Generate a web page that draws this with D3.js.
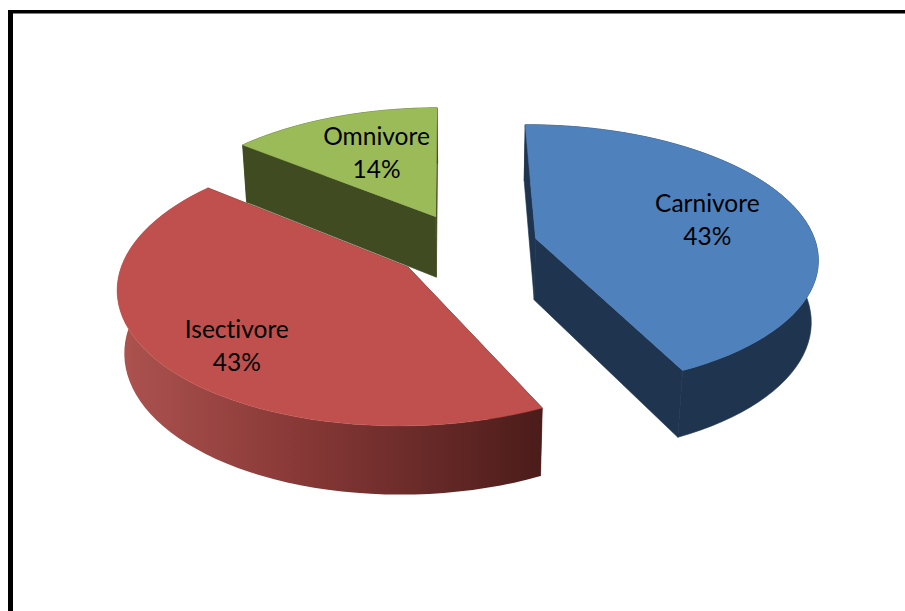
<!DOCTYPE html>
<html>
<head>
<meta charset="utf-8">
<script src="https://cdn.jsdelivr.net/npm/d3@7"></script>
<style>
  html, body { margin: 0; padding: 0; background: #fff; overflow: hidden; }
  text { font-family: Lato, "Open Sans", sans-serif; font-size: 24.5px; fill: #000; font-variant-ligatures: none; }
</style>
</head>
<body>
<div id="chart"></div>
<script>
const categories = ["Carnivore", "Isectivore", "Omnivore"];
const values = [43, 43, 14];

const topColors = ["#4f81bd", "#c0504d", "#9bbb59"];
const sideColors = ["#1f344f", "url(#redSide)", "#404b21"];

const width = 905;
const height = 611;

// pie geometry, all in px of the flat disc before the view is applied
const radius = 281;
const depth = 63;
const explode = 72;
const rotation = 0.5 * Math.PI / 180;
const labelAt = [0.65, 0.7, 0.55];
const labelNudge = [1, 17, -5];

// view of the tilted disc
const cx = 466;
const cy = 246;
const tilt = 0.466;
const backShrink = 0.135;
const downShrink = 0.09;

function project(x, y, z) {
  const s = 1 / (1 + backShrink * y / radius + downShrink * z / radius);
  return [cx + x * s, cy - tilt * y * s + z * s];
}

const svg = d3.select("#chart")
  .append("svg")
  .attr("width", width)
  .attr("height", height);

// side shading of the red slice
const grad = svg.append("defs").append("linearGradient")
  .attr("id", "redSide")
  .attr("gradientUnits", "userSpaceOnUse")
  .attr("x1", 118).attr("y1", 0)
  .attr("x2", 543).attr("y2", 0);
grad.append("stop").attr("offset", "0%").attr("stop-color", "#ad5350");
grad.append("stop").attr("offset", "40%").attr("stop-color", "#8a3a38");
grad.append("stop").attr("offset", "100%").attr("stop-color", "#4b1c1a");

// frame
svg.append("rect").attr("x", 8).attr("y", 10).attr("width", 5).attr("height", height - 10).attr("fill", "#000");
svg.append("rect").attr("x", 8).attr("y", 10).attr("width", width - 8).attr("height", 3.5).attr("fill", "#000");

const arcs = d3.pie().sort(null).value(d => d)
  .startAngle(-rotation)
  .endAngle(2 * Math.PI - rotation)(values);
const total = d3.sum(values);
const line = d3.line();

arcs.forEach((a, i) => {
  const mid = (a.startAngle + a.endAngle) / 2;
  const ox = explode * Math.sin(mid);
  const oy = explode * Math.cos(mid);

  const angles = d3.range(0, 61).map(k => a.startAngle + (a.endAngle - a.startAngle) * k / 60);
  const rim = z => angles.map(t => project(ox + radius * Math.sin(t), oy + radius * Math.cos(t), z));
  const apex = z => project(ox, oy, z);
  const topRim = rim(0);
  const lowRim = rim(depth);
  const cutColor = i === 1 ? "#4b1c1a" : sideColors[i];

  const g = svg.append("g").attr("class", "slice");

  // cut faces first, the rim and the top hide the ones facing away
  g.append("path")
    .attr("d", line([apex(0), topRim[0], lowRim[0], apex(depth)]) + "Z")
    .attr("fill", cutColor)
    .attr("stroke", cutColor)
    .attr("stroke-width", 0.6);
  g.append("path")
    .attr("d", line([apex(0), topRim[60], lowRim[60], apex(depth)]) + "Z")
    .attr("fill", cutColor)
    .attr("stroke", cutColor)
    .attr("stroke-width", 0.6);
  g.append("path")
    .attr("d", line(topRim.concat(lowRim.slice().reverse())) + "Z")
    .attr("fill", sideColors[i])
    .attr("stroke", i === 1 ? "none" : cutColor)
    .attr("stroke-width", 0.6);
  g.append("path")
    .attr("d", line([apex(0)].concat(topRim)) + "Z")
    .attr("fill", topColors[i])
    .attr("stroke", topColors[i])
    .attr("stroke-width", 0.5);

  const lr = radius * labelAt[i];
  const [lx, ly] = project(ox + lr * Math.sin(mid), oy + lr * Math.cos(mid), 0);
  const label = g.append("text").attr("text-anchor", "middle");
  label.append("tspan").attr("x", lx).attr("y", ly + labelNudge[i] - 9).text(categories[i]);
  label.append("tspan").attr("x", lx).attr("y", ly + labelNudge[i] + 24).text(d3.format(".0%")(values[i] / total));
});
</script>
</body>
</html>
